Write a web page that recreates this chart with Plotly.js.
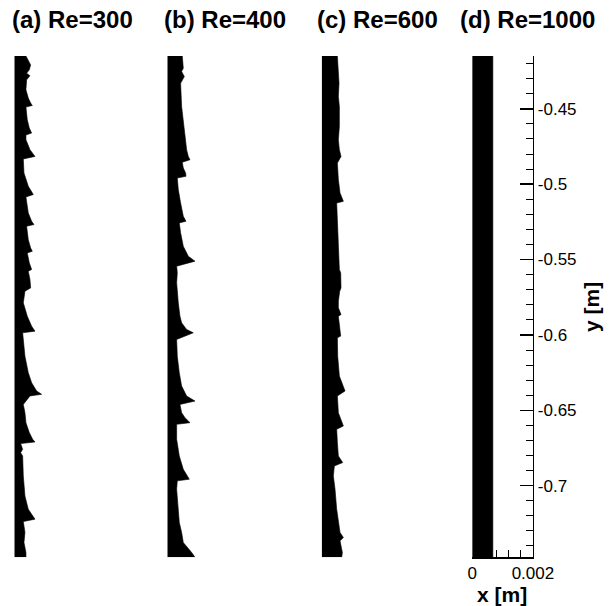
<!DOCTYPE html>
<html>
<head>
<meta charset="utf-8">
<script src="https://cdn.plot.ly/plotly-3.0.1.min.js"></script>
<style>html,body{margin:0;padding:0;background:#fff;}#chart{width:613px;height:606px;}</style>
</head>
<body>
<div id="chart"></div>
<script>
// Panel titles
const panelTitles = ["(a) Re=300", "(b) Re=400", "(c) Re=600", "(d) Re=1000"];

// Panel (a) Re=300: wall position y [m] and film thickness x [m]
const yA = [-0.415,-0.4176,-0.4209,-0.4242,-0.4264,-0.4281,-0.4308,-0.4374,-0.4429,-0.4462,
  -0.4478,-0.4489,-0.4573,-0.4628,-0.4661,-0.4674,-0.4705,-0.4771,-0.4816,-0.4833,
  -0.4926,-0.5014,-0.5069,-0.5085,-0.5191,-0.5246,-0.5268,-0.5279,-0.5368,-0.5423,
  -0.5445,-0.5456,-0.5522,-0.5566,-0.5577,-0.5632,-0.5688,-0.5710,
  -0.5743,-0.5787,-0.5876,-0.5942,-0.5975,-0.5986,-0.6141,-0.6251,-0.6317,-0.6372,
  -0.6394,-0.6405,-0.6461,-0.6516,-0.6582,-0.6648,-0.6692,-0.6710,-0.6721,-0.6759,
  -0.6781,-0.6803,-0.6935,-0.7068,-0.7156,-0.7211,-0.7222,-0.7238,-0.7310,-0.7377,
  -0.7443,-0.7475];
const hA = [0.000384,0.000461,0.000538,0.000494,0.000406,0.000516,0.000406,0.000384,0.000461,0.000538,
  0.000593,0.000384,0.000428,0.000494,0.000571,0.000384,0.000384,0.000516,0.000681,0.000297,
  0.000319,0.000461,0.000626,0.000384,0.000461,0.000571,0.000648,0.000406,0.000461,0.000538,
  0.000593,0.000428,0.000494,0.000571,0.000461,0.000516,0.000538,0.000351,
  0.000319,0.000297,0.000428,0.000571,0.000681,0.000275,0.000351,0.000461,0.000571,0.000736,
  0.000901,0.000516,0.000297,0.000351,0.000384,0.000494,0.000604,0.000681,0.000209,0.000275,
  0.000209,0.000275,0.000297,0.000351,0.000461,0.000626,0.000681,0.000297,0.000351,0.000319,
  0.000384,0.000384];

// Panel (b) Re=400
const yB = [-0.415,-0.4198,-0.4231,-0.4253,-0.4286,-0.4319,-0.4330,-0.4485,-0.4595,-0.4705,
  -0.4771,-0.4816,-0.4838,-0.4855,-0.4893,-0.4926,-0.4948,-0.4959,-0.5036,-0.5125,
  -0.5213,-0.5246,-0.5257,-0.5323,-0.5412,-0.5478,-0.5511,-0.5544,-0.5588,-0.5654,
  -0.5721,
  -0.5743,-0.5787,-0.5876,-0.5920,-0.5964,-0.5986,-0.6030,-0.6141,-0.6251,-0.6339,
  -0.6405,-0.6439,-0.6461,-0.6516,-0.6549,-0.6582,-0.6593,-0.6692,-0.6803,-0.6891,
  -0.6957,-0.6968,-0.7023,-0.7134,-0.7244,-0.7310,-0.7377,-0.7443,-0.7475];
const hB = [0.000494,0.000505,0.000527,0.000472,0.000560,0.000472,0.000439,0.000472,0.000527,0.000582,
  0.000637,0.000692,0.000747,0.000494,0.000527,0.000604,0.000615,0.000329,0.000362,0.000439,
  0.000527,0.000615,0.000395,0.000439,0.000527,0.000692,0.000912,0.000308,0.000329,0.000308,
  0.000329,
  0.000329,0.000362,0.000417,0.000472,0.000637,0.000857,0.000308,0.000329,0.000395,0.000472,
  0.000637,0.000912,0.000417,0.000472,0.000582,0.000747,0.000308,0.000308,0.000395,0.000527,
  0.000725,0.000329,0.000308,0.000362,0.000395,0.000472,0.000527,0.000802,0.000912];

// Panel (c) Re=600
const yC = [-0.415,-0.4264,-0.4330,-0.4418,-0.4485,-0.4617,-0.4705,-0.4771,-0.4816,-0.4860,
  -0.4970,-0.5058,-0.5114,-0.5125,-0.5279,-0.5368,-0.5478,-0.5566,-0.5588,-0.5688,
  -0.5710,
  -0.5776,-0.5820,-0.5865,-0.5876,-0.5920,-0.5964,-0.6008,-0.6019,-0.6141,-0.6273,
  -0.6372,-0.6405,-0.6516,-0.6604,-0.6626,-0.6714,-0.6803,-0.6847,-0.6869,-0.6935,
  -0.7023,-0.7156,-0.7244,-0.7310,-0.7344,-0.7366,-0.7399,-0.7443,-0.7475];
const hC = [0.000516,0.000549,0.000571,0.000549,0.000582,0.000582,0.000549,0.000582,0.000637,0.000516,
  0.000549,0.000604,0.000714,0.000494,0.000527,0.000549,0.000571,0.000582,0.000626,0.000637,
  0.000593,
  0.000549,0.000549,0.000637,0.000549,0.000571,0.000582,0.000626,0.000516,0.000527,0.000582,
  0.000769,0.000516,0.000549,0.000714,0.000494,0.000516,0.000549,0.000692,0.000417,0.000384,
  0.000439,0.000494,0.000549,0.000604,0.000714,0.000604,0.000637,0.000681,0.000659];

// Panel (d) Re=1000: flat film
const yD = [-0.415, -0.7475];
const hD = [0.00068, 0.00068];

// Axis tick values / labels (panel d)
const yTickVals = [-0.45, -0.5, -0.55, -0.6, -0.65, -0.7];
const yTickText = ["-0.45", "-0.5", "-0.55", "-0.6", "-0.65", "-0.7"];
const xTickVals = [0, 0.002];
const xTickText = ["0", "0.002"];
const xRange = [0, 0.002];
const yRange = [-0.7475, -0.415];

const W = 613, H = 606;
const panelLeftPx = [14.3, 167.3, 321.7, 472.2];
const panelWidthPx = 60.7;
const titleCenterPx = [72.5, 225, 378, 527];
const yDom = [1 - 557.3 / H, 1 - 56 / H];

const ys = [yA, yB, yC, yD];
const hs = [hA, hB, hC, hD];

const traces = [];
const layout = {
  width: W, height: H,
  margin: {l: 0, r: 0, t: 0, b: 0},
  paper_bgcolor: "white", plot_bgcolor: "rgba(0,0,0,0)",
  showlegend: false, hovermode: false,
  font: {family: "Arial, 'Liberation Sans', sans-serif", color: "black"},
  annotations: []
};

for (let i = 0; i < 4; i++) {
  const sfx = i === 0 ? "" : String(i + 1);
  traces.push({
    type: "scatter", mode: "lines",
    x: hs[i], y: ys[i],
    xaxis: "x" + sfx, yaxis: "y" + sfx,
    fill: "tozerox", fillcolor: "black",
    line: {color: "black", width: 0.6}
  });
  const d0 = panelLeftPx[i] / W, d1 = (panelLeftPx[i] + panelWidthPx) / W;
  const isD = i === 3;
  layout["xaxis" + sfx] = {
    domain: [d0, d1], range: xRange, anchor: "y" + sfx,
    visible: isD, showgrid: false, zeroline: false,
    showline: isD, linecolor: "black", linewidth: 1.5,
    tickmode: "array", tickvals: xTickVals, ticktext: xTickText,
    ticks: "inside", ticklen: 13, tickwidth: 1.5, tickcolor: "black",
    tickfont: {size: 17, family: "Arial, 'Liberation Sans', sans-serif", color: "black"},
    minor: {tickmode: "linear", tick0: 0, dtick: 0.0004, ticks: "inside", ticklen: 7, tickwidth: 1, tickcolor: "black", showgrid: false}
  };
  layout["yaxis" + sfx] = {
    domain: yDom, range: yRange, anchor: "x" + sfx,
    visible: isD, showgrid: false, zeroline: false,
    side: "right",
    showline: isD, linecolor: "black", linewidth: 1.5,
    tickmode: "array", tickvals: yTickVals, ticktext: yTickText,
    ticks: "inside", ticklen: 13, tickwidth: 1.5, tickcolor: "black",
    tickfont: {size: 17, family: "Arial, 'Liberation Sans', sans-serif", color: "black"},
    minor: {tickmode: "linear", tick0: -0.45, dtick: 0.01, ticks: "inside", ticklen: 7, tickwidth: 1, tickcolor: "black", showgrid: false}
  };
  layout.annotations.push({
    xref: "paper", yref: "paper",
    x: titleCenterPx[i] / W, y: 1 - 20 / H,
    xanchor: "center", yanchor: "middle", showarrow: false,
    text: "<b>" + panelTitles[i] + "</b>",
    font: {size: 24, family: "Arial, 'Liberation Sans', sans-serif", color: "black"}
  });
}

layout.annotations.push({
  xref: "paper", yref: "paper", x: 502 / W, y: 1 - 594 / H,
  xanchor: "center", yanchor: "middle", showarrow: false,
  text: "<b>x [m]</b>",
  font: {size: 21, family: "Arial, 'Liberation Sans', sans-serif", color: "black"}
});
layout.annotations.push({
  xref: "paper", yref: "paper", x: 591 / W, y: 1 - 307 / H,
  xanchor: "center", yanchor: "middle", showarrow: false, textangle: -90,
  text: "<b>y [m]</b>",
  font: {size: 21, family: "Arial, 'Liberation Sans', sans-serif", color: "black"}
});

Plotly.newPlot("chart", traces, layout, {staticPlot: true, displayModeBar: false});
</script>
</body>
</html>
